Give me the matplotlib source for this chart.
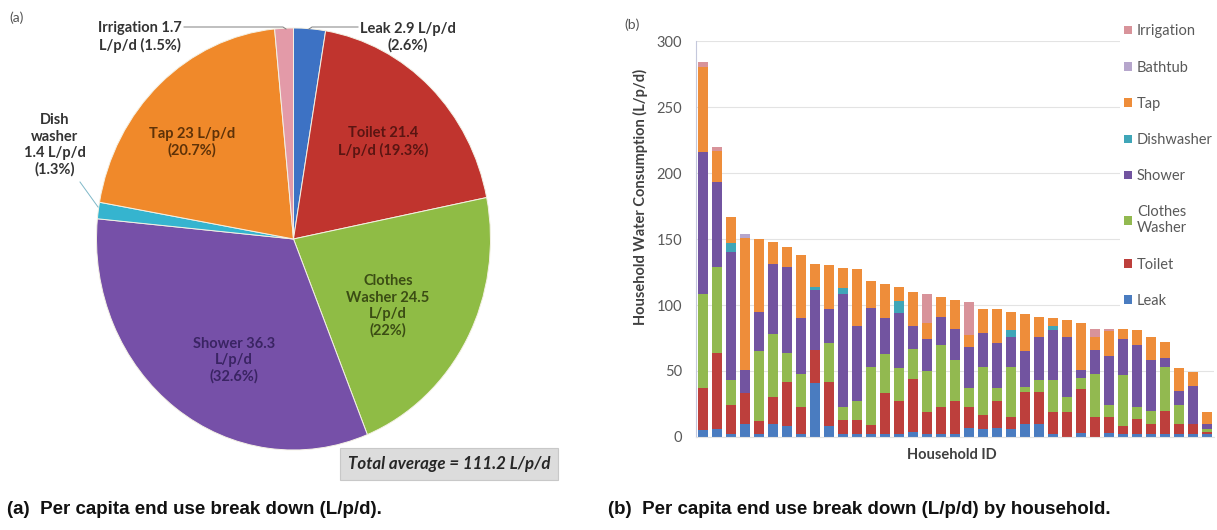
#!/usr/bin/env python3
"""
per capita end use breakdown: pie (a) and stacked bars by household (b)
"""

import matplotlib.pyplot as plt
import numpy as np

# (a) pie, clockwise from 12 o'clock
pie_labels = ["Leak", "Toilet", "Clothes Washer", "Shower", "Dish washer", "Tap", "Irrigation"]
pie_values = [2.9, 21.4, 24.5, 36.3, 1.4, 23.0, 1.7]
pie_pct = ["2.6%", "19.3%", "22%", "32.6%", "1.3%", "20.7%", "1.5%"]
total_average = 111.2

# (b) stacked bars, one value per household (L/p/d), bottom to top
leak = [5, 6, 2, 10, 2, 10, 8, 2, 41, 8, 2, 2, 2, 2, 2, 4, 2, 2, 2, 7,
        6, 7, 6, 10, 10, 2, 0, 3, 0, 3, 2, 2, 2, 2, 2, 2, 2]
toilet = [32, 58, 22, 23, 10, 20, 34, 21, 25, 34, 11, 11, 7, 31, 25, 40, 17, 21, 25, 16,
          11, 20, 9, 24, 24, 17, 19, 33, 15, 12, 6, 12, 8, 18, 8, 8, 2]
clothes_washer = [71, 65, 19, 0, 53, 48, 22, 25, 0, 29, 10, 14, 44, 30, 25, 23, 31, 47, 31, 14,
                  36, 10, 38, 4, 9, 24, 11, 9, 33, 9, 39, 9, 10, 33, 14, 0, 2]
shower = [108, 64, 97, 18, 30, 53, 65, 42, 45, 26, 85, 57, 45, 27, 42, 17, 24, 21, 24, 31,
          26, 34, 23, 27, 33, 38, 46, 6, 18, 37, 27, 47, 38, 7, 11, 29, 4]
dishwasher = [0, 0, 7, 0, 0, 0, 0, 0, 3, 0, 5, 0, 0, 0, 9, 0, 0, 0, 0, 0,
              0, 0, 5, 0, 0, 3, 0, 0, 0, 0, 0, 0, 0, 0, 0, 0, 0]
tap = [64, 24, 20, 100, 55, 17, 15, 48, 17, 33, 15, 43, 20, 26, 11, 26, 12, 15, 22, 9,
       18, 26, 14, 28, 15, 6, 13, 35, 10, 19, 8, 11, 18, 12, 17, 10, 9]
bathtub = [0, 0, 0, 3, 0, 0, 0, 0, 0, 0, 0, 0, 0, 0, 0, 0, 0, 0, 0, 0,
           0, 0, 0, 0, 0, 0, 0, 0, 0, 0, 0, 0, 0, 0, 0, 0, 0]
irrigation = [4, 3, 0, 0, 0, 0, 0, 0, 0, 0, 0, 0, 0, 0, 0, 0, 22, 0, 0, 25,
              0, 0, 0, 0, 0, 0, 0, 0, 6, 2, 0, 0, 0, 0, 0, 0, 0]
bar_series = ["Leak", "Toilet", "Clothes\nWasher", "Shower", "Dishwasher", "Tap", "Bathtub", "Irrigation"]

pie_colors = ["#3d72c4", "#c0342e", "#8fbc45", "#7650a8", "#35b4cf", "#f0892a", "#e39aa8"]
pie_text_colors = ["#333333", "#5a1512", "#3b4d14", "#3a2463", "#333333", "#5e3208", "#333333"]
bar_colors = ["#4a7cc0", "#bd3f3c", "#92b950", "#7254a0", "#3fa6b8", "#ee8d3a", "#b6a6cc", "#d8939a"]

W, H = 1217, 530
label_font = "Lato"


def px(x, y):
    """pixel (from top left) -> figure fraction"""
    return x / W, 1 - y / H


fig = plt.figure(figsize=(W / 100, H / 100), dpi=100)

# ---------------- (a) pie ----------------
cx, cy, rx, ry = 293.5, 239, 197, 211
ax_pie = fig.add_axes([(cx - rx) / W, 1 - (cy + ry) / H, 2 * rx / W, 2 * ry / H])
ax_pie.pie(pie_values, colors=pie_colors, startangle=90, counterclock=False,
           wedgeprops=dict(edgecolor="#f4f1e4", linewidth=0.7))
ax_pie.set_aspect("auto")
ax_pie.set_xlim(-1, 1)
ax_pie.set_ylim(-1, 1)


def dxy(x, y):
    return (x - cx) / rx, (cy - y) / ry


inner = {
    "Tap": ("Tap 23 L/p/d\n(20.7%)", (192, 142)),
    "Toilet": ("Toilet 21.4\nL/p/d (19.3%)", (383, 142)),
    "Clothes Washer": ("Clothes\nWasher 24.5\nL/p/d\n(22%)", (388, 306)),
    "Shower": ("Shower 36.3\nL/p/d\n(32.6%)", (234, 360)),
}
for name, (txt, pos) in inner.items():
    i = pie_labels.index(name)
    ax_pie.text(*dxy(*pos), txt, ha="center", va="center", fontsize=10.5,
                fontweight="bold", family=label_font, color=pie_text_colors[i],
                linespacing=1.2)

# outside labels with leader lines
ax_pie.text(*dxy(140, 37), "Irrigation 1.7\nL/p/d (1.5%)", ha="center", va="center",
            fontsize=10.5, fontweight="bold", family=label_font, color="#333333", linespacing=1.2)
ax_pie.plot(*zip(dxy(184, 27), dxy(283, 27), dxy(286, 29)), color="#7f7f7f", lw=0.7, clip_on=False)
ax_pie.text(*dxy(408, 37), "Leak 2.9 L/p/d\n(2.6%)", ha="center", va="center",
            fontsize=10.5, fontweight="bold", family=label_font, color="#333333", linespacing=1.2)
ax_pie.plot(*zip(dxy(309, 29), dxy(312, 27), dxy(358, 27)), color="#7f7f7f", lw=0.7, clip_on=False)
ax_pie.text(*dxy(55, 145), "Dish\nwasher\n1.4 L/p/d\n(1.3%)", ha="center", va="center",
            fontsize=10.5, fontweight="bold", family=label_font, color="#333333", linespacing=1.2)
ax_pie.plot(*zip(dxy(80, 182), dxy(98, 207)), color="#7fb8c8", lw=0.7, clip_on=False)

fig.text(*px(17, 18), "(a)", ha="center", va="center", fontsize=10, family=label_font, color="#555555")
fig.text(*px(348, 464), f"Total average = {total_average} L/p/d", ha="left", va="center",
         fontsize=12.2, fontweight="bold", style="italic", family=label_font, color="#262626",
         bbox=dict(boxstyle="square,pad=0.45", facecolor="#dcdcdc", edgecolor="#c8c8c8", lw=0.8))

# ---------------- (b) stacked bars ----------------
x0, x1, y0, y1 = 696, 1214, 437, 41
ax_bar = fig.add_axes([x0 / W, 1 - y0 / H, (x1 - x0) / W, (y0 - y1) / H])
series = [leak, toilet, clothes_washer, shower, dishwasher, tap, bathtub, irrigation]
x = np.arange(len(leak))
bottom = np.zeros(len(leak))
handles = []
for vals, name, col in zip(series, bar_series, bar_colors):
    b = ax_bar.bar(x, vals, 0.65, bottom=bottom, color=col, label=name, zorder=2)
    bottom += np.array(vals)
    handles.append(b)

ax_bar.set_xlim(-0.5, len(leak) - 0.5)
ax_bar.set_ylim(0, 300)
ax_bar.set_yticks(range(0, 301, 50))
ax_bar.set_xticks([])
ax_bar.grid(axis="y", color="#e3e3e3", lw=0.8, zorder=0)
for s in ["top", "right"]:
    ax_bar.spines[s].set_visible(False)
ax_bar.spines["left"].set_color("#c4c8dc")
ax_bar.spines["bottom"].set_color("#e3e3e3")
ax_bar.tick_params(axis="y", length=0, pad=10, labelsize=10.5, labelcolor="#595959")
for t in ax_bar.get_yticklabels():
    t.set_family(label_font)

fig.text(*px(640, 197), "Household Water Consumption (L/p/d)", rotation=90, ha="center",
         va="center", fontsize=10.5, fontweight="bold", family=label_font, color="#404040")
fig.text(*px(952, 455), "Household ID", ha="center", va="center", fontsize=10.5,
         fontweight="bold", family=label_font, color="#404040")
fig.text(*px(632, 25), "(b)", ha="center", va="center", fontsize=10, family=label_font, color="#555555")

leg = fig.legend(handles[::-1], bar_series[::-1], loc="upper left",
                 bbox_to_anchor=px(1120, 20), frameon=True, fancybox=False,
                 framealpha=1, edgecolor="none", labelspacing=1.52,
                 handlelength=0.5, handleheight=0.5, handletextpad=0.35,
                 borderpad=0.3, borderaxespad=0,
                 prop=dict(family=label_font, size=10.5))
for t in leg.get_texts():
    t.set_color("#595959")

# captions
fig.text(*px(7, 510), "(a)  Per capita end use break down (L/p/d).", ha="left", va="center",
         fontsize=13.5, fontweight="bold", family="Liberation Sans", color="#111111")
fig.text(*px(608, 510), "(b)  Per capita end use break down (L/p/d) by household.", ha="left",
         va="center", fontsize=13.5, fontweight="bold", family="Liberation Sans", color="#111111")

fig.savefig("out.png", dpi=100)
